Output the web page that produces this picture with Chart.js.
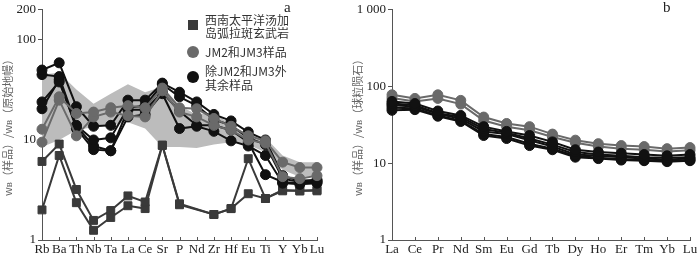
<!DOCTYPE html>
<html>
<head>
<meta charset="utf-8">
<script src="https://cdn.jsdelivr.net/npm/chart.js@4/dist/chart.umd.min.js"></script>
<style>
  body { margin: 0; background: #fff; width: 700px; height: 257px; overflow: hidden; position: relative; font-family: "Liberation Serif", serif; }
  canvas { position: absolute; top: 0; }
  #chartA { left: 0; }
  #chartB { left: 350px; }
  .tag { position: absolute; font-size: 15px; color: #222; line-height: 15px; }
  .leg { position: absolute; left: 205px; font-family: "Noto Sans CJK SC", sans-serif; font-size: 12px; line-height: 13px; color: #333; white-space: nowrap; }
  .mk { position: absolute; }
</style>
</head>
<body>
<canvas id="chartA" width="350" height="257"></canvas>
<canvas id="chartB" width="350" height="257"></canvas>

<div class="tag" style="left:284px;top:0px">a</div>
<div class="tag" style="left:663px;top:0px">b</div>

<div class="mk" style="left:188px;top:20px;width:10px;height:10px;background:#3a3a3a"></div>
<div class="leg" style="top:13px">西南太平洋汤加<br>岛弧拉斑玄武岩</div>
<div class="mk" style="left:187px;top:46px;width:12px;height:12px;border-radius:50%;background:#6a6a6a"></div>
<div class="leg" style="top:45px">JM2和JM3样品</div>
<div class="mk" style="left:187px;top:71px;width:12px;height:12px;border-radius:50%;background:#111"></div>
<div class="leg" style="top:64px;line-height:14px">除JM2和JM3外<br>其余样品</div>

<script>
// ---- panel a : primitive-mantle normalised spider diagram ----
const spiderLabels = ['Rb','Ba','Th','Nb','Ta','La','Ce','Sr','P','Nd','Zr','Hf','Eu','Ti','Y','Yb','Lu'];
const spiderTicks = [1, 10, 100, 200];

// Tonga arc tholeiites (no Nd value)
const tongaHigh = [6.1, 9.1, 3.2, 1.57, 1.97, 2.76, 2.4, 8.9, 2.3, null, 1.8, 2.06, 6.5, 2.6, 3.16, 3.1, 3.16];
const tongaLow  = [2.0, 7.0, 2.36, 1.25, 1.68, 2.2, 2.06, 8.8, 2.25, null, 1.8, 2.06, 2.9, 2.6, 3.1, 3.1, 3.1];

// JM2, JM3
const jm2 = [12.8, 27, 18.4, 19, 21, 22, 21, 33, 21, 20.5, 16.4, 13.7, 11, 9.8, 6.0, 5.3, 5.3];
const jm3 = [9.5, 25, 11, 17, 19, 17.5, 17, 31, 19, 17, 14, 12.5, 10, 9.3, 4.3, 4.1, 4.4];

// remaining samples
const restA = [50, 59, 21.5, 13.7, 14, 25, 25, 37, 30, 24, 18, 15.5, 12, 10, 4.4, 3.9, 4.0];
const restB = [45, 43, 14, 10, 10.5, 21, 22, 36, 27, 22, 16, 14, 10.5, 9, 4.1, 3.8, 3.9];
const restC = [24, 38, 13.7, 8.7, 7.8, 20, 20, 30, 19.4, 14, 14, 12.5, 9.5, 4.5, 3.8, 3.7, 3.8];
const restD = [20.5, 40, 13, 8, 7.8, 17, 18, 29, 13, 13.7, 12.2, 9.8, 8.7, 7, 3.7, 3.6, 3.7];

// shaded reference field
const fieldTop    = [45, 47, 32, 23, 29, 36, 30, 34, 22, 18, 19, 14, 11.5, 10.5, 7, 6, 6];
const fieldBottom = [8.5, 10, 12.5, 13.5, 14, 15, 13, 8.5, 8.5, 8.3, 9, 9.5, 9, 7.5, 5, 4.3, 4.3];

// ---- panel b : chondrite-normalised REE ----
const reeLabels = ['La','Ce','Pr','Nd','Sm','Eu','Gd','Tb','Dy','Ho','Er','Tm','Yb','Lu'];
const reeTicks = [1, 10, 100, 1000];
const reeJm2 = [78, 70, 78, 66, 40, 33, 30, 24, 20, 18, 17, 16.5, 15.5, 16];
const reeJm3 = [71, 64, 70, 59, 36, 30, 27, 22, 18.5, 16.5, 15.5, 15, 14.2, 14.8];
const reeRestA = [64, 60, 48, 42, 30, 26, 23, 19, 15, 14, 13.5, 13, 12.5, 13];
const reeRestB = [60, 57, 45, 40, 28, 25, 21, 17.5, 14, 13, 12.5, 12, 11.8, 12];
const reeRestC = [57, 55, 44, 38, 26, 24, 20, 16.5, 13, 12.5, 12, 11.5, 11.2, 11.5];
const reeRestD = [53, 52, 42, 36, 24, 22, 18, 15.5, 12.5, 11.8, 11.3, 11, 10.8, 11];
const reeRestE = [49, 50, 41, 35, 23, 21, 17, 15, 12, 11.5, 11, 10.8, 10.5, 10.8];

const GREY = '#6a6a6a', BLACK = '#111111', SQ = '#3a3a3a', FIELD = '#bcbcbc';

function series(data, color, style, r) {
  return {
    data, borderColor: color, backgroundColor: color,
    pointBackgroundColor: color, pointBorderColor: color,
    pointStyle: style, pointRadius: r, pointBorderWidth: 1,
    borderWidth: 2, fill: false, tension: 0, spanGaps: true
  };
}

// x ticks drawn inward, like the original figure
const innerTicks = {
  id: 'innerTicks',
  afterDraw(chart) {
    const { ctx, chartArea } = chart;
    const x = chart.scales.x;
    ctx.save();
    ctx.strokeStyle = '#555';
    ctx.lineWidth = 1;
    x.ticks.forEach((t, i) => {
      const px = Math.round(x.getPixelForTick(i)) + 0.5;
      ctx.beginPath();
      ctx.moveTo(px, chartArea.bottom);
      ctx.lineTo(px, chartArea.bottom - 3);
      ctx.stroke();
    });
    ctx.restore();
  }
};

function makeOptions(yMax, yTicks, title, padRight) {
  return {
    responsive: false,
    animation: false,
    devicePixelRatio: 1,
    layout: { padding: { left: 0, right: padRight, top: 5, bottom: 0 } },
    plugins: { legend: { display: false }, tooltip: { enabled: false } },
    scales: {
      x: {
        type: 'category',
        offset: false,
        grid: { display: false, drawTicks: false, tickLength: 0 },
        border: { display: true, color: '#555', width: 1 },
        ticks: { color: '#222', font: { family: 'Liberation Serif', size: 13 }, padding: 2, maxRotation: 0, autoSkip: false },
        afterFit(s) { s.height = 17; }
      },
      y: {
        type: 'logarithmic',
        min: 1, max: yMax,
        grid: { display: true, drawOnChartArea: false, drawTicks: true, tickLength: 4, color: '#555' },
        border: { display: true, color: '#555', width: 1 },
        ticks: {
          color: '#222', font: { family: 'Liberation Serif', size: 13 }, padding: 2,
          callback: v => v === 1000 ? '1 000' : String(v)
        },
        afterBuildTicks(s) { s.ticks = yTicks.map(v => ({ value: v })); },
        title: { display: true, text: title, color: '#666', font: { family: 'Noto Sans CJK SC', size: 11 }, padding: { top: 1, bottom: 0 } },
        afterFit(s) { s.width = 42; }
      }
    }
  };
}

const fieldUpper = { data: fieldTop, borderWidth: 0, pointRadius: 0, backgroundColor: FIELD, borderColor: FIELD, fill: '+1', tension: 0 };
const fieldLower = { data: fieldBottom, borderWidth: 0, pointRadius: 0, backgroundColor: FIELD, borderColor: FIELD, fill: false, tension: 0 };

new Chart(document.getElementById('chartA'), {
  type: 'line',
  data: {
    labels: spiderLabels,
    datasets: [
      series(jm2, GREY, 'circle', 5),
      series(jm3, GREY, 'circle', 5),
      series(restA, BLACK, 'circle', 5),
      series(restB, BLACK, 'circle', 5),
      series(restC, BLACK, 'circle', 5),
      series(restD, BLACK, 'circle', 5),
      series(tongaHigh, SQ, 'rect', 5.6),
      series(tongaLow, SQ, 'rect', 5.6),
      fieldUpper,
      fieldLower
    ]
  },
  options: makeOptions(200, spiderTicks, 'wʙ（样品）/wʙ（原始地幔）', 33),
  plugins: [innerTicks]
});

new Chart(document.getElementById('chartB'), {
  type: 'line',
  data: {
    labels: reeLabels,
    datasets: [
      series(reeRestA, BLACK, 'circle', 5),
      series(reeRestB, BLACK, 'circle', 5),
      series(reeRestC, BLACK, 'circle', 5),
      series(reeRestD, BLACK, 'circle', 5),
      series(reeRestE, BLACK, 'circle', 5),
      series(reeJm2, GREY, 'circle', 5),
      series(reeJm3, GREY, 'circle', 5)
    ]
  },
  options: makeOptions(1000, reeTicks, 'wʙ（样品）/wʙ（球粒陨石）', 10),
  plugins: [innerTicks]
});
</script>
</body>
</html>
